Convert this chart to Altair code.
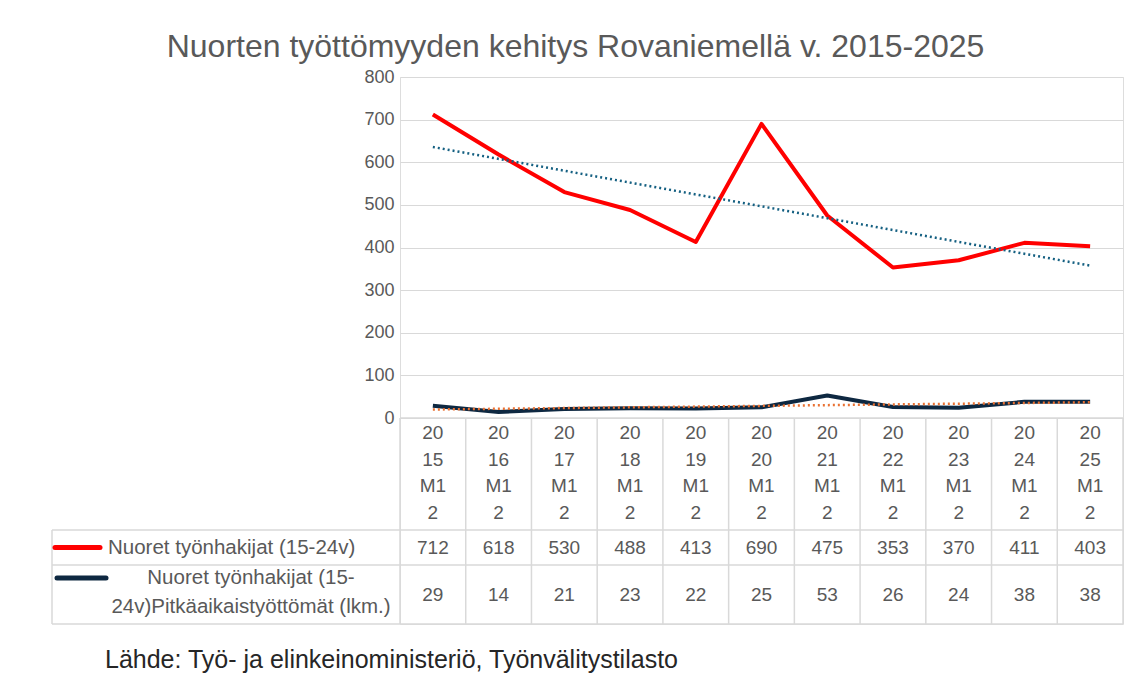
import altair as alt
import pandas as pd

# ---------------- data ----------------
categories = ["2015M12", "2016M12", "2017M12", "2018M12", "2019M12", "2020M12",
              "2021M12", "2022M12", "2023M12", "2024M12", "2025M12"]
youth = [712, 618, 530, 488, 413, 690, 475, 353, 370, 411, 403]
longterm = [29, 14, 21, 23, 22, 25, 53, 26, 24, 38, 38]
series_names = ["Nuoret työnhakijat (15-24v)",
                "Nuoret työnhakijat (15-24v)Pitkäaikaistyöttömät (lkm.)"]
y_ticks = [0, 100, 200, 300, 400, 500, 600, 700, 800]
title_text = "Nuorten työttömyyden kehitys Rovaniemellä v. 2015-2025"
source_text = "Lähde: Työ- ja elinkeinoministeriö, Työnvälitystilasto"

# ---------------- layout / style ----------------
FONT = "Liberation Sans"
GREY_TXT = "#595959"
GRID = "#D9D9D9"
RED = "#FF0000"
NAVY = "#0E2841"
TREND_BLUE = "#156082"
TREND_ORANGE = "#E97132"

W, H_TOP, H_TAB = 723, 341, 206
N = len(categories)
UNIT = W / N
TABLE_LEFT = -348 / UNIT          # left edge of the label column (category units)
ROW_EDGES = [0, 112, 147, 206]    # table row boundaries (table units)

x_scale = alt.Scale(domain=[0, N], nice=False, zero=False)
x_enc = alt.X("pos:Q", scale=x_scale, axis=None)
y_top = alt.Scale(domain=[0, 800], range=[H_TOP, 0], nice=False)
y_tab = alt.Scale(domain=[0, ROW_EDGES[-1]], range=[H_TOP, H_TOP + H_TAB], nice=False, zero=False)

pos = [i + 0.5 for i in range(N)]
df_youth = pd.DataFrame({"pos": pos, "value": youth, "cat": categories})
df_long = pd.DataFrame({"pos": pos, "value": longterm, "cat": categories})

axis_top = alt.Axis(values=y_ticks, grid=True, gridColor=GRID, gridWidth=1,
                    domain=False, ticks=False, labelFontSize=18, labelFont=FONT,
                    labelColor=GREY_TXT, labelPadding=6, title=None)

line_youth = alt.Chart(df_youth).mark_line(color=RED, strokeWidth=4, strokeJoin="round").encode(
    x=x_enc, y=alt.Y("value:Q", scale=y_top, axis=axis_top))
line_long = alt.Chart(df_long).mark_line(color=NAVY, strokeWidth=4, strokeJoin="round").encode(
    x=x_enc, y=alt.Y("value:Q", scale=y_top, axis=None))
trend_youth = alt.Chart(df_youth).transform_regression("pos", "value").mark_line(
    color=TREND_BLUE, strokeWidth=2.5, strokeDash=[2, 3]).encode(
    x=x_enc, y=alt.Y("value:Q", scale=y_top, axis=None))
trend_long = alt.Chart(df_long).transform_regression("pos", "value").mark_line(
    color=TREND_ORANGE, strokeWidth=2.5, strokeDash=[2, 3]).encode(
    x=x_enc, y=alt.Y("value:Q", scale=y_top, axis=None))

# ---------------- data table ----------------
vlines = [{"x": float(i), "y1": ROW_EDGES[0], "y2": ROW_EDGES[-1]} for i in range(N + 1)]
vlines.append({"x": TABLE_LEFT, "y1": ROW_EDGES[1], "y2": ROW_EDGES[-1]})
hlines = [{"y": ROW_EDGES[0], "x1": 0.0, "x2": float(N)}]
hlines += [{"y": e, "x1": TABLE_LEFT, "x2": float(N)} for e in ROW_EDGES[1:]]

vrule = alt.Chart(pd.DataFrame(vlines)).mark_rule(color=GRID, strokeWidth=1.5).encode(
    x=alt.X("x:Q", scale=x_scale, axis=None),
    y=alt.Y("y1:Q", scale=y_tab, axis=None), y2="y2:Q")
hrule = alt.Chart(pd.DataFrame(hlines)).mark_rule(color=GRID, strokeWidth=1.5).encode(
    x=alt.X("x1:Q", scale=x_scale, axis=None), x2="x2:Q",
    y=alt.Y("y:Q", scale=y_tab, axis=None))

# header cells: category labels wrapped in 2-character pieces, first line near the top
hdr = pd.DataFrame({
    "pos": pos,
    "ty": [ROW_EDGES[0] + 15] * N,
    "txt": ["\n".join(c[i:i + 2] for i in range(0, len(c), 2)) for c in categories],
})
hdr_text = alt.Chart(hdr).mark_text(font=FONT, fontSize=19, color=GREY_TXT, lineBreak="\n",
                                    lineHeight=26.5, baseline="middle", align="center").encode(
    x=x_enc, y=alt.Y("ty:Q", scale=y_tab, axis=None), text="txt:N")

vals = pd.DataFrame({
    "pos": pos + pos,
    "ty": [(ROW_EDGES[1] + ROW_EDGES[2]) / 2] * N + [(ROW_EDGES[2] + ROW_EDGES[3]) / 2] * N,
    "txt": [str(v) for v in youth] + [str(v) for v in longterm],
})
val_text = alt.Chart(vals).mark_text(font=FONT, fontSize=19, color=GREY_TXT,
                                     baseline="middle", align="center").encode(
    x=x_enc, y=alt.Y("ty:Q", scale=y_tab, axis=None), text="txt:N")

# legend keys in the label column
keys = pd.DataFrame({
    "x1": [-345 / UNIT, -343 / UNIT], "x2": [-300 / UNIT, -294 / UNIT],
    "ty": [(ROW_EDGES[1] + ROW_EDGES[2]) / 2, ROW_EDGES[2] + 13],
    "series": series_names,
})
key_rule = alt.Chart(keys).mark_rule(strokeWidth=5, strokeCap="round").encode(
    x=alt.X("x1:Q", scale=x_scale, axis=None), x2="x2:Q",
    y=alt.Y("ty:Q", scale=y_tab, axis=None),
    color=alt.Color("series:N", scale=alt.Scale(domain=series_names, range=[RED, NAVY]), legend=None))

lbl1 = alt.Chart(pd.DataFrame({"pos": [-292 / UNIT], "ty": [(ROW_EDGES[1] + ROW_EDGES[2]) / 2],
                               "txt": [series_names[0]]})).mark_text(
    font=FONT, fontSize=20.5, color=GREY_TXT, baseline="middle", align="left").encode(
    x=x_enc, y=alt.Y("ty:Q", scale=y_tab, axis=None), text="txt:N")
lbl2 = alt.Chart(pd.DataFrame({"pos": [-149 / UNIT], "ty": [ROW_EDGES[2] + 13],
                               "txt": [series_names[1][:23] + "\n" + series_names[1][23:]]})).mark_text(
    font=FONT, fontSize=20.5, color=GREY_TXT, baseline="middle", align="center",
    lineBreak="\n", lineHeight=29).encode(
    x=x_enc, y=alt.Y("ty:Q", scale=y_tab, axis=None), text="txt:N")

src = alt.Chart(pd.DataFrame({"pos": [-295 / UNIT], "ty": [250], "txt": [source_text]})).mark_text(
    font=FONT, fontSize=25, color="#262626", baseline="alphabetic", align="left").encode(
    x=x_enc, y=alt.Y("ty:Q", scale=y_tab, axis=None), text="txt:N")

chart = alt.layer(
    line_youth, line_long, trend_youth, trend_long,
    vrule, hrule, hdr_text, val_text, key_rule, lbl1, lbl2, src,
).resolve_scale(y="independent").properties(
    width=W, height=H_TOP + H_TAB,
    title=alt.TitleParams(title_text, font=FONT, fontSize=32, fontWeight="normal",
                          color=GREY_TXT, anchor="middle", dx=-186, offset=4),
    autosize=alt.AutoSizeParams(type="none"),
    padding={"left": 392, "top": 69, "right": 3, "bottom": 61},
).configure_view(stroke=None).configure(background="white")

chart.save("out.html", embed_options={"renderer": "svg", "actions": False})
